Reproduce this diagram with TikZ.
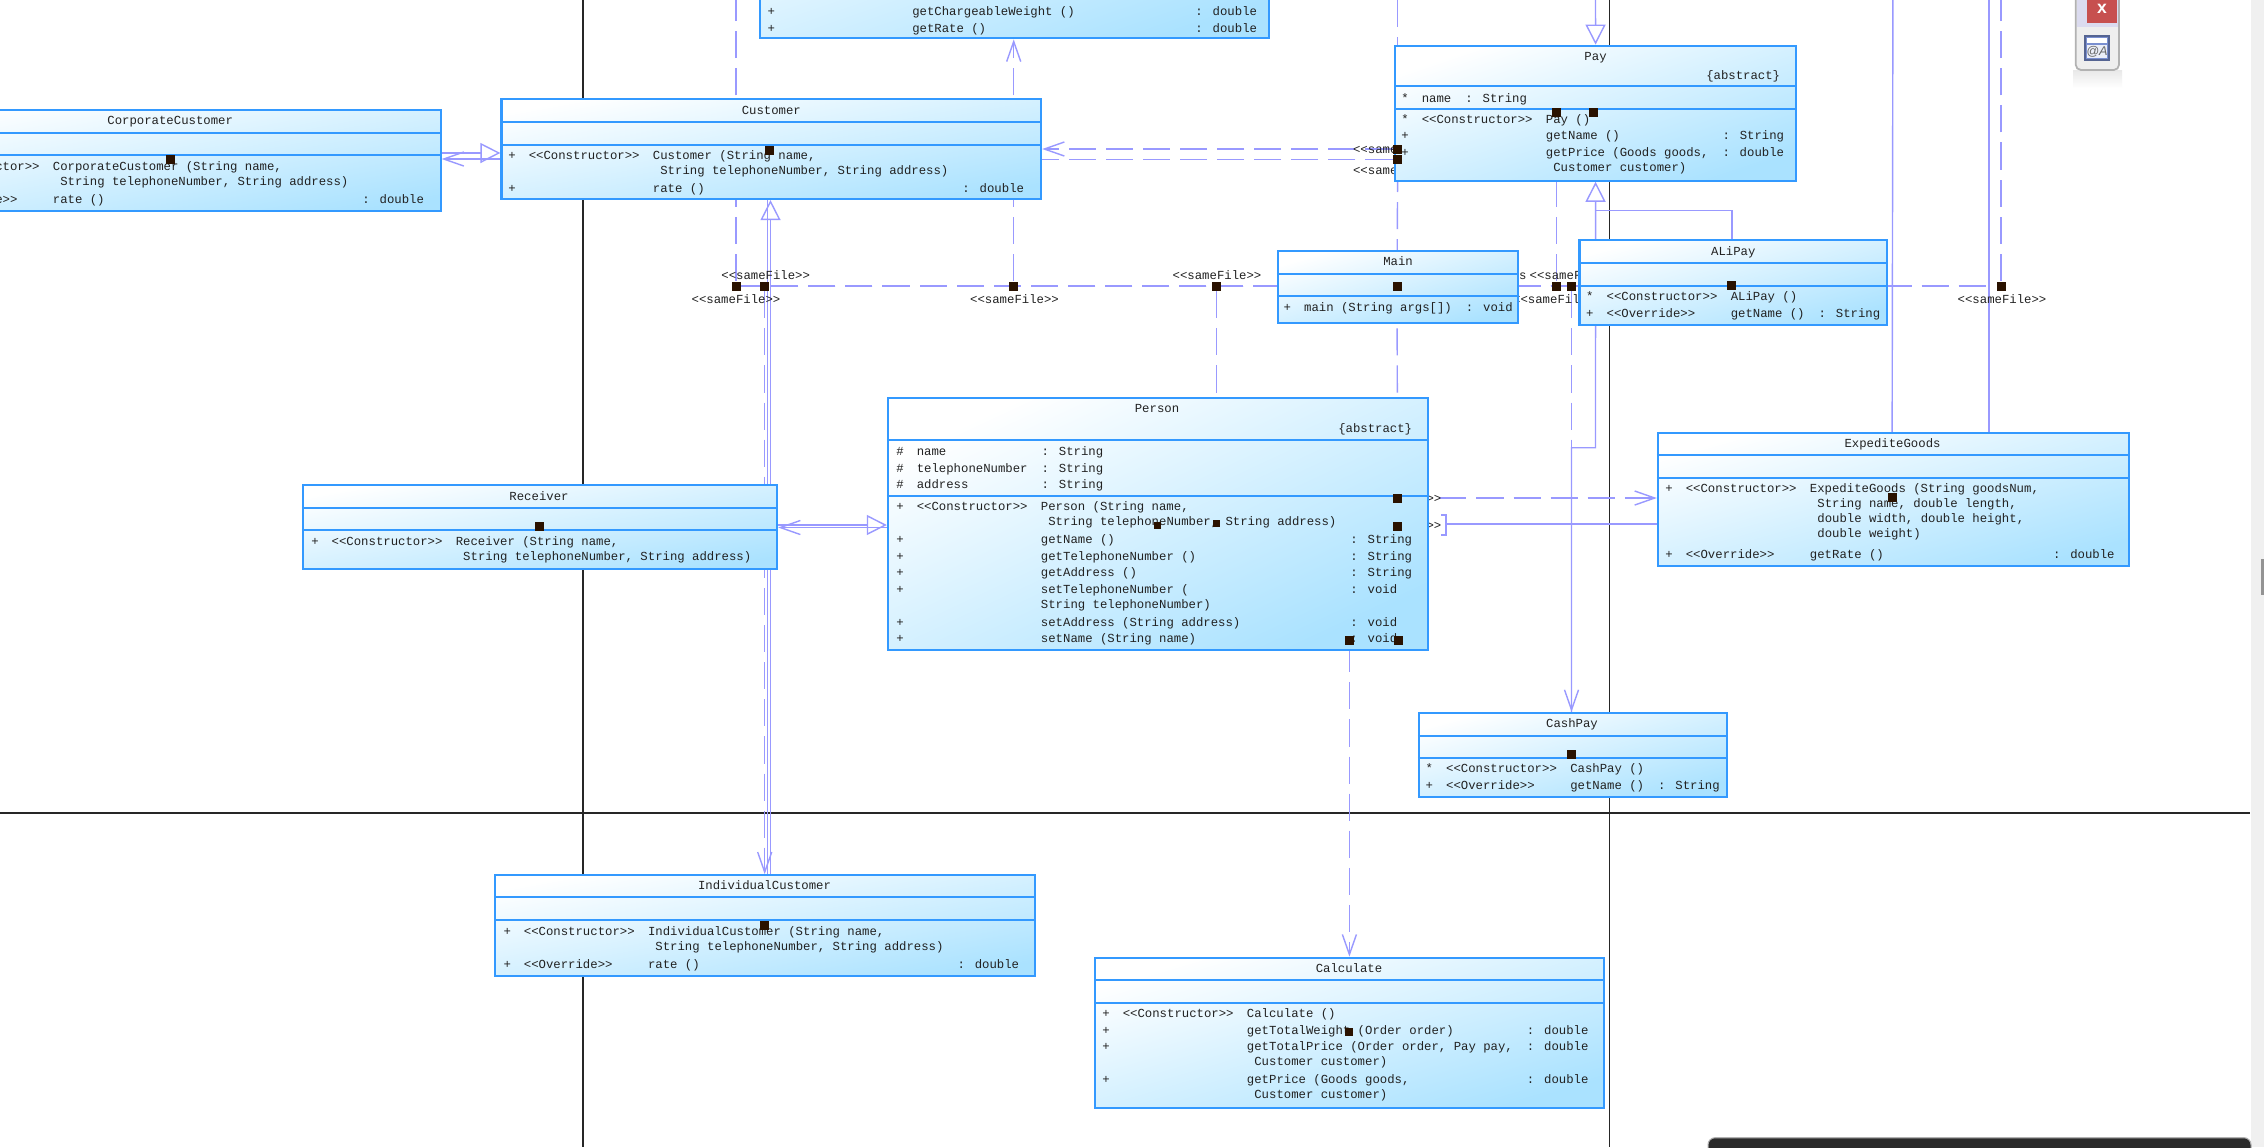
\documentclass[tikz,border=0pt]{standalone}
\usepackage{fontspec}
\usetikzlibrary{arrows.meta,backgrounds}
\newfontfamily\umlmono{Liberation Mono}
\newfontfamily\umlsans{Liberation Sans}
\newcommand{\umlfont}{\umlmono\fontsize{3.5}{4.7}\selectfont}
\definecolor{umlBleu}{RGB}{51,153,255}
\definecolor{umlFond}{RGB}{170,226,255}
\definecolor{umlLien}{RGB}{153,153,255}
\definecolor{umlTexte}{RGB}{34,34,34}
\definecolor{umlPoignee}{RGB}{42,18,0}
\definecolor{barreGris}{RGB}{240,240,240}
\definecolor{barreNoir}{RGB}{42,42,42}
\definecolor{paletteRouge}{RGB}{199,80,79}
\definecolor{paletteFond}{RGB}{238,238,238}
\definecolor{paletteIcone}{RGB}{122,143,208}
\newenvironment{opstab}{\begin{tabular}{@{}l@{\hskip3.7pt}l@{\hskip3.8pt}l@{\hskip4pt}l@{}}}{\end{tabular}}
\newenvironment{attrtab}{\begin{tabular}{@{}l@{\hskip3.7pt}l@{\hskip4pt}l@{}}}{\end{tabular}}
\begin{document}
\begin{tikzpicture}[
  x=0.01cm, y=-0.01cm,
  cls/.style={draw=umlBleu, line width=.6pt, inner sep=0pt, top color=white, bottom color=umlFond},
  csep/.style={draw=umlBleu, line width=.6pt},
  txt/.style={font=\umlfont, text=umlTexte, inner sep=0pt, anchor=north west},
  lbl/.style={font=\umlfont, text=umlTexte, inner sep=0pt, text height=2.7pt, text depth=.8pt},
  hd/.style={fill=umlPoignee, inner sep=0pt, minimum width=.09cm, minimum height=.09cm},
  trait/.style={umlLien, line width=.4pt},
  dep/.style={trait, dash pattern=on 7.7pt off 2.85pt},
  depa/.style={dep, -{Straight Barb[length=5.7pt,width=4pt]}},
  nav/.style={trait, -{Straight Barb[length=5.7pt,width=4pt]}},
  gen/.style={trait, -{Triangle[open,fill=white,length=5.7pt,width=5.7pt]}},
  cadre/.style={black!85, line width=.35pt}
]
\useasboundingbox (0,0) rectangle (2264,1147);

% classes
\node[cls, shading angle=10.6, minimum width=5.405cm, minimum height=1.007cm] (corp) at (170.2,160.35) {};
\draw[csep] (corp.west |- 0,132.7) -- (corp.east |- 0,132.7);
\draw[csep] (corp.west |- 0,155) -- (corp.east |- 0,155);
\node[lbl] (corpNom) at (170.2,121) {CorporateCustomer};
\node[txt] (corpOps) at (-92.3,158) {\begin{opstab}
+ & <{}<Constructor>{}> & CorporateCustomer (String name, & \\[-.43pt]
  & & \ String telephoneNumber, String address) & \\[.43pt]
+ & <{}<Override>{}> & rate () & : double
\end{opstab}};

\node[cls, shading angle=10.5, minimum width=5.394cm, minimum height=.997cm] (customer) at (771.3,149.15) {};
\draw[csep] (customer.west |- 0,122.3) -- (customer.east |- 0,122.3);
\draw[csep] (customer.west |- 0,144.7) -- (customer.east |- 0,144.7);
\node[lbl] (customerNom) at (771.3,110.7) {Customer};
\node[txt] (customerOps) at (507.7,147.4) {\begin{opstab}
+ & <{}<Constructor>{}> & Customer (String name, & \\[-.43pt]
  & & \ String telephoneNumber, String address) & \\[.43pt]
+ & & rate () & : double
\end{opstab}};

\node[cls, shading angle=19, minimum width=5.081cm, minimum height=1.783cm] (goods) at (1014.45,-50.85) {};
\node[txt, anchor=south west] (goodsOps) at (767,38) {\begin{opstab}
+ & \hphantom{<{}<Constructor>{}>} & \makebox[2.69cm][l]{getChargeableWeight ()} & : double \\
+ & & getRate () & : double
\end{opstab}};

\node[cls, shading angle=18.6, minimum width=4.001cm, minimum height=1.35cm] (pay) at (1595.55,113.2) {};
\draw[csep] (pay.west |- 0,86.3) -- (pay.east |- 0,86.3);
\draw[csep] (pay.west |- 0,108.7) -- (pay.east |- 0,108.7);
\node[lbl] (payNom) at (1595.55,56.7) {Pay};
\node[lbl, anchor=east] (payAbs) at (1780.8,76) {\{abstract\}};
\node[txt] (payAttr) at (1400.7,90.4) {\begin{attrtab}
* & name & : String
\end{attrtab}};
\node[txt] (payOps) at (1400.7,111) {\begin{opstab}
* & <{}<Constructor>{}> & Pay () & \\
+ & & getName () & : String \\
+ & & getPrice (Goods goods, & : double \\[-.43pt]
  & & \ Customer customer) &
\end{opstab}};

\node[cls, shading angle=16.8, minimum width=2.4cm, minimum height=.723cm] (main) at (1398,287.15) {};
\draw[csep] (main.west |- 0,273.7) -- (main.east |- 0,273.7);
\draw[csep] (main.west |- 0,296) -- (main.east |- 0,296);
\node[lbl] (mainNom) at (1398,262.3) {Main};
\node[txt] (mainOps) at (1283,299) {\begin{attrtab}
+ & main (String args[]) & : void
\end{attrtab}};

\node[cls, shading angle=15.3, minimum width=3.074cm, minimum height=.844cm] (alipay) at (1733.3,282.5) {};
\draw[csep] (alipay.west |- 0,263) -- (alipay.east |- 0,263);
\draw[csep] (alipay.west |- 0,285.7) -- (alipay.east |- 0,285.7);
\node[lbl] (alipayNom) at (1733.3,251.7) {ALiPay};
\node[txt] (alipayOps) at (1585.5,288.4) {\begin{opstab}
* & <{}<Constructor>{}> & ALiPay () & \\
+ & <{}<Override>{}> & getName () & : String
\end{opstab}};

\node[cls, shading angle=25, minimum width=5.397cm, minimum height=2.52cm] (person) at (1157.85,524) {};
\draw[csep] (person.west |- 0,440) -- (person.east |- 0,440);
\draw[csep] (person.west |- 0,495.7) -- (person.east |- 0,495.7);
\node[lbl] (personNom) at (1157,409.3) {Person};
\node[lbl, anchor=east] (personAbs) at (1412.8,428.7) {\{abstract\}};
\node[txt] (personAttr) at (895.7,443.4) {\begin{attrtab}
\# & name & : String \\
\# & telephoneNumber & : String \\
\# & address & : String
\end{attrtab}};
\node[txt] (personOps) at (895.7,498.4) {\begin{opstab}
+ & <{}<Constructor>{}> & Person (String name, & \\[-.43pt]
  & & \ String telephoneNumber, String address) & \\[.43pt]
+ & & getName () & : String \\
+ & & getTelephoneNumber () & : String \\
+ & & getAddress () & : String \\
+ & & setTelephoneNumber ( & : void \\[-.43pt]
  & & String telephoneNumber) & \\[.43pt]
+ & & setAddress (String address) & : void \\
+ & & setName (String name) & : void
\end{opstab}};

\node[cls, shading angle=10.1, minimum width=4.74cm, minimum height=.843cm] (receiver) at (540,527.15) {};
\draw[csep] (receiver.west |- 0,507.7) -- (receiver.east |- 0,507.7);
\draw[csep] (receiver.west |- 0,530.3) -- (receiver.east |- 0,530.3);
\node[lbl] (receiverNom) at (539,496.7) {Receiver};
\node[txt] (receiverOps) at (310.6,533) {\begin{opstab}
+ & <{}<Constructor>{}> & Receiver (String name, & \\[-.43pt]
  & & \ String telephoneNumber, String address) &
\end{opstab}};

\node[cls, shading angle=15.8, minimum width=4.706cm, minimum height=1.333cm] (expedite) at (1893.3,499.35) {};
\draw[csep] (expedite.west |- 0,455) -- (expedite.east |- 0,455);
\draw[csep] (expedite.west |- 0,477.7) -- (expedite.east |- 0,477.7);
\node[lbl] (expediteNom) at (1892.5,443.7) {ExpediteGoods};
\node[txt] (expediteOps) at (1664.7,480.4) {\begin{opstab}
+ & <{}<Constructor>{}> & ExpediteGoods (String goodsNum, & \\[-.43pt]
  & & \ String name, double length, & \\[-.43pt]
  & & \ double width, double height, & \\[-.43pt]
  & & \ double weight) & \\[1.2pt]
+ & <{}<Override>{}> & getRate () & : double
\end{opstab}};

\node[cls, shading angle=15.3, minimum width=3.075cm, minimum height=.843cm] (cashpay) at (1572.75,755.15) {};
\draw[csep] (cashpay.west |- 0,735.7) -- (cashpay.east |- 0,735.7);
\draw[csep] (cashpay.west |- 0,758.3) -- (cashpay.east |- 0,758.3);
\node[lbl] (cashpayNom) at (1572,724) {CashPay};
\node[txt] (cashpayOps) at (1425,760.7) {\begin{opstab}
* & <{}<Constructor>{}> & CashPay () & \\
+ & <{}<Override>{}> & getName () & : String
\end{opstab}};

\node[cls, shading angle=10.5, minimum width=5.395cm, minimum height=1.004cm] (individual) at (765.05,925.5) {};
\draw[csep] (individual.west |- 0,897.3) -- (individual.east |- 0,897.3);
\draw[csep] (individual.west |- 0,920) -- (individual.east |- 0,920);
\node[lbl] (individualNom) at (764.5,886.3) {IndividualCustomer};
\node[txt] (individualOps) at (502.8,923) {\begin{opstab}
+ & <{}<Constructor>{}> & IndividualCustomer (String name, & \\[-.43pt]
  & & \ String telephoneNumber, String address) & \\[.43pt]
+ & <{}<Override>{}> & rate () & : double
\end{opstab}};

\node[cls, shading angle=16.4, minimum width=5.081cm, minimum height=1.5cm] (calculate) at (1349.35,1032.7) {};
\draw[csep] (calculate.west |- 0,980.3) -- (calculate.east |- 0,980.3);
\draw[csep] (calculate.west |- 0,1002.7) -- (calculate.east |- 0,1002.7);
\node[lbl] (calculateNom) at (1349,968.7) {Calculate};
\node[txt] (calculateOps) at (1101.7,1005.4) {\begin{opstab}
+ & <{}<Constructor>{}> & Calculate () & \\
+ & & getTotalWeight (Order order) & : double \\
+ & & getTotalPrice (Order order, Pay pay, & : double \\[-.43pt]
  & & \ Customer customer) & \\[.43pt]
+ & & getPrice (Goods goods, & : double \\[-.43pt]
  & & \ Customer customer) &
\end{opstab}};

% poignees
\node[hd] (hCorp)      at (170,159) {};
\node[hd] (hCustomer)  at (769.5,150) {};
\node[hd] (hTopLeft)   at (736,286) {};
\node[hd] (hIndiv)     at (764.7,286) {};
\node[hd] (hGoods)     at (1013.7,286) {};
\node[hd] (hPerson)    at (1216.6,286) {};
\node[hd] (hMain)      at (1397,286) {};
\node[hd] (hPayDep)    at (1556.6,286) {};
\node[hd] (hCashDep)   at (1571.5,286) {};
\node[hd] (hAli)       at (1731.8,285) {};
\node[hd] (hTopRight)  at (2001,286) {};
\node[hd] (hPayA)      at (1556.6,112.7) {};
\node[hd] (hPayB)      at (1593.7,112.7) {};
\node[hd] (hPayC)      at (1397.7,149) {};
\node[hd] (hPayD)      at (1397.7,159.7) {};
\node[hd] (hPersonA)   at (1397,498) {};
\node[hd] (hPersonB)   at (1397,526) {};
\node[hd] (hPersonC)   at (1349.4,640) {};
\node[hd] (hPersonD)   at (1398,640) {};
\node[hd, minimum width=.07cm, minimum height=.07cm] (hPersonE) at (1157,525) {};
\node[hd, minimum width=.07cm, minimum height=.07cm] (hPersonF) at (1216.6,523) {};
\node[hd] (hReceiver)  at (539,526) {};
\node[hd] (hExp)       at (1892,497) {};
\node[hd] (hCashPay)   at (1571.5,754) {};
\node[hd] (hInd)       at (764,925) {};
\node[hd, minimum width=.08cm, minimum height=.08cm] (hCalc) at (1349.4,1031.7) {};

% points libres
\coordinate (topA) at (736,0);
\coordinate (topB) at (2001,0);
\coordinate (topC) at (1397.7,0);
\coordinate (topD) at (1595.5,0);
\coordinate (topE) at (1892.9,0);
\coordinate (topF) at (1989,0);
\coordinate (cashBend) at (1595.5,447.7);
\coordinate (aliBend) at (1595.5,210.7);
\coordinate (corpGen) at (480,153);
\coordinate (indGen) at (770.5,500);
\coordinate (indNav) at (767.3,500);
\coordinate (recvGen) at (800,525);
\coordinate (recvNav) at (800,527.5);
\coordinate (personBar) at (1446,524);

\begin{scope}[on background layer]
\fill[white] (0,0) rectangle (2264,1147);
\draw[cadre] (583,0) -- (583,1147);
\draw[cadre] (1609.3,0) -- (1609.3,1147);
\draw[cadre, line width=.55pt] (0,813.3) -- (2249.5,813.3);

\draw[dep] (hMain) -- (hTopLeft) -- (topA);
\draw[dep] (hMain) -- (hIndiv);
\draw[depa] (hIndiv) -- (hIndiv |- individual.north);
\draw[dep] (hMain) -- (hGoods);
\draw[depa] (hGoods) -- (hGoods |- goods.south);
\draw[dep] (hMain) -- (hPerson) -- (hPerson |- person.north);
\draw[dep] (hMain) -- (hPayDep) -- (hPayA);
\draw[dep] (hMain) -- (hCashDep);
\draw[depa] (hCashDep) -- (hCashDep |- cashpay.north);
\draw[dep] (hMain) -- (hTopRight) -- (topB);
\draw[dep] (topC) -- (hPayC);
\draw[dep] (hPayD) -- (hMain);
\draw[dep] (hMain) -- (hPersonD);
\draw[depa] (hPayC) -- (customer.east |- hPayC);
\draw[dep] (hPayD) -- (customer.east |- hPayD);
\draw[depa] (hPersonA) -- (expedite.west |- hPersonA);
\draw[depa] (hPersonC) -- (hPersonC |- calculate.north);

\draw[gen] (topD) -- (pay.north);
\draw[gen] (hCashPay) |- (cashBend) -- (pay.south);
\draw[trait] (hAli) |- (aliBend);
\draw[trait] (topE) -- (hExp);
\draw[trait] (topF) -- (topF |- expedite.north);
\draw[trait] (expedite.west |- personBar) -- (personBar);
\draw[trait] (personBar) ++(-5,-9) -- ++(5,0) -- ++(0,20) -- ++(-5,0);
\draw[gen] (corp.east |- corpGen) -- (customer.west |- corpGen);
\draw[nav] (customer.west |- hCorp) -- (corp.east |- hCorp);
\draw[gen] (indGen |- individual.north) -- (indGen |- customer.south);
\draw[trait] (indNav |- customer.south) -- (indNav |- individual.north);
\draw[gen] (receiver.east |- recvGen) -- (person.west |- recvGen);
\draw[nav] (person.west |- recvNav) -- (receiver.east |- recvNav);

\node[lbl] (sfTopLeft)  at (736,299.7)    {<{}<sameFile>{}>};
\node[lbl] (sfIndiv)    at (765.7,276)    {<{}<sameFile>{}>};
\node[lbl] (sfGoods)    at (1014.5,299.7) {<{}<sameFile>{}>};
\node[lbl] (sfPerson)   at (1217,276)     {<{}<sameFile>{}>};
\node[lbl] (sfFrag)     at (1522.7,276)   {s};
\node[lbl] (sfCashDep)  at (1574,276)     {<{}<sameFile>{}>};
\node[lbl] (sfPayDep)   at (1557.5,299.7) {<{}<sameFile>{}>};
\node[lbl] (sfTopRight) at (2002,299.7)   {<{}<sameFile>{}>};
\node[lbl] (sfPayC)     at (1397.4,150)   {<{}<sameFile>{}>};
\node[lbl] (sfPayD)     at (1397.4,170.7) {<{}<sameFile>{}>};
\node[lbl] (sfPersonA)  at (1397,498.7)   {<{}<sameFile>{}>};
\node[lbl] (sfPersonB)  at (1397,526)     {<{}<sameFile>{}>};
\end{scope}

% ecran
\fill[barreGris] (2251,0) rectangle (2264,1147);
\fill[gray!85] (2261,559) rectangle (2264,595);
\draw[gray!60, line width=.3pt, fill=barreNoir, rounded corners=2pt] (1708,1137.7) rectangle (2251,1170);
\shade[top color=gray!18, bottom color=white] (2073,70) rectangle (2122,88);
\draw[gray!60, line width=.5pt, fill=paletteFond, rounded corners=1.5pt] (2075.7,-20) rectangle (2119,70);
\fill[blue!8!paletteFond] (2077,0) rectangle (2118,27);
\node[fill=paletteRouge, minimum width=.3cm, minimum height=.28cm, inner sep=0pt, text=white,
      font=\umlsans\bfseries\fontsize{5}{5}\selectfont] (fermer) at (2102,9) {x};
\node[draw=paletteIcone!70!black, fill=paletteIcone, minimum width=.24cm, minimum height=.24cm,
      inner sep=0pt] (icone) at (2097,48) {};
\fill[white] (2087,38) rectangle (2107,43);
\fill[white!85!paletteIcone] (2087,45) rectangle (2107,58);
\node[font=\umlsans\itshape\fontsize{3.6}{4}\selectfont, text=black!60, inner sep=0pt] (iconeTexte) at (2097,52) {@A};
\end{tikzpicture}
\end{document}
